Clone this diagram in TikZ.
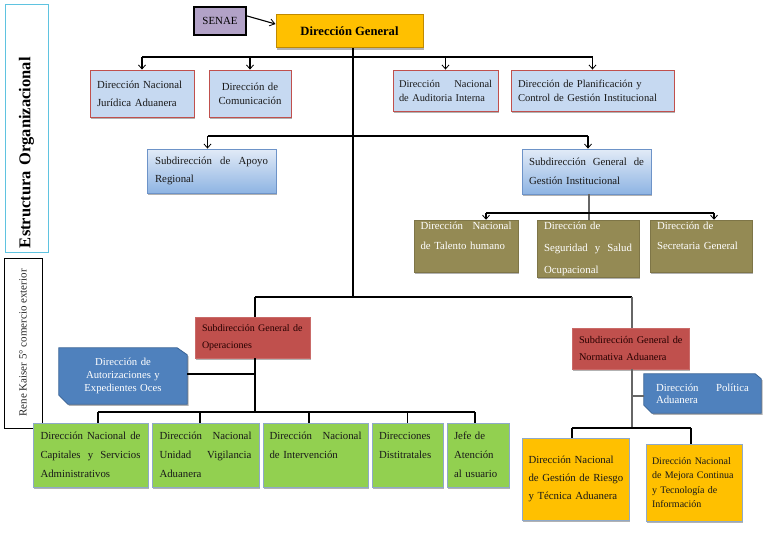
\documentclass[tikz,border=0pt]{standalone}
\usepackage{fontspec}
\setmainfont{Liberation Serif}
\usetikzlibrary{arrows.meta,shadows,backgrounds,calc}
\definecolor{lblue}{HTML}{C6D9F1}
\definecolor{redb}{HTML}{C0504D}
\definecolor{olivec}{HTML}{948A54}
\definecolor{sgred}{HTML}{C0504D}
\definecolor{grn}{HTML}{92D050}
\definecolor{orng}{HTML}{FFC000}
\definecolor{orngb}{HTML}{C08A00}
\definecolor{bshape}{HTML}{4F81BD}
\definecolor{bshapeb}{HTML}{3A6496}
\definecolor{gradtop}{HTML}{E2EBF7}
\definecolor{gradbot}{HTML}{8EB4E3}
\definecolor{gradb}{HTML}{6D93C8}
\definecolor{senaef}{HTML}{B2A2C7}
\definecolor{cyanb}{HTML}{5FC3E0}
\definecolor{bluegb}{HTML}{8FA9C9}
\newcommand{\bxf}[2]{\fontsize{#1}{#2}\selectfont}
\newcommand{\jl}[1]{\makebox[\hsize][l]{#1}}
\tikzset{
  bx/.style={rectangle, inner ysep=0pt, align=left, text=black!90},
  sh/.style={drop shadow={shadow xshift=1.3pt, shadow yshift=-1.6pt, opacity=0.3, fill=black}},
  lb/.style={bx, sh, fill=lblue, draw=redb, line width=0.9pt},
  gb/.style={bx, sh, top color=gradtop, bottom color=gradbot, draw=gradb, line width=0.8pt},
  ob/.style={bx, sh, fill=olivec, draw=olivec!85!black, line width=0.5pt, text=white},
  rb/.style={bx, sh, fill=sgred, draw=sgred!85!white, line width=0.8pt, text=black!85!red},
  grb/.style={bx, sh, fill=grn, draw=bluegb, line width=0.9pt},
  orb/.style={bx, sh, fill=orng, draw=bluegb, line width=0.9pt},
  ln/.style={draw=black, line width=1.1pt},
  bus/.style={draw=black, line width=1.7pt},
  gl/.style={draw=black!60, line width=1.1pt},
  arr/.style={ln, -{Straight Barb[length=4pt,width=7pt,line width=0.8pt]}},
}
\begin{document}
\begin{tikzpicture}[x=1pt,y=-1pt]
\useasboundingbox (0,0) rectangle (768,543);

% side labels
\node[draw=cyanb, line width=1pt, rotate=90, minimum width=247pt, minimum height=43pt,
      text width=239pt, inner xsep=4pt, inner ysep=0pt, align=left,
      font=\bfseries\bxf{16.5}{18}] (est) at (26.5,128.5) {Estructura Organizacional};
\node[draw=black, line width=1pt, rotate=90, minimum width=170pt, minimum height=38pt,
      text=black!85, font=\bxf{11}{13}] (rk) at (23,343) {Rene Kaiser 5° comercio exterior};

% top
\node[fill=senaef, draw=black, line width=1.8pt, minimum width=52pt, minimum height=28pt,
      inner sep=0pt, font=\bxf{10.9}{13}] (senae) at (220,21) {SENAE};
\node[sh, fill=orng, draw=orngb, line width=1pt, minimum width=147pt, minimum height=33pt,
      inner sep=0pt, font=\bfseries\bxf{12.6}{15}] (dg) at (349.5,31.5) {Dirección General};

% first row
\node[lb, minimum width=104pt, minimum height=47pt, inner xsep=7pt, text width=90pt,
      font=\bxf{10.8}{18}] (b1) at (142,93.5) {\mbox{Dirección Nacional}\\\mbox{Jurídica Aduanera}};
\node[lb, minimum width=82pt, minimum height=47pt, inner xsep=6pt, text width=70pt, align=center,
      font=\bxf{10.8}{14}] (b2) at (250,93.5) {Dirección de\\Comunicación};
\node[lb, minimum width=105pt, minimum height=41pt, inner xsep=6pt, text width=93pt,
      font=\bxf{10.4}{14}] (b3) at (445.5,90.5) {\jl{Dirección\hfill Nacional}\\\mbox{de Auditoria Interna}};
\node[lb, minimum width=163pt, minimum height=41pt, inner xsep=7pt, text width=149pt,
      font=\bxf{10.6}{14}] (b4) at (592.5,90.5) {\mbox{Dirección de Planificación y}\\\mbox{Control de Gestión Institucional}};

% second row
\node[gb, minimum width=129pt, minimum height=44pt, inner xsep=8pt, text width=113pt,
      font=\bxf{10.8}{18}] (sar) at (211.5,171) {\jl{Subdirección\hfill de\hfill Apoyo}\\Regional};
\node[gb, minimum width=129pt, minimum height=45pt, inner xsep=7pt, text width=115pt,
      font=\bxf{10.8}{19}] (sggi) at (586.5,171.5) {\jl{Subdirección\hfill General\hfill de}\\\mbox{Gestión Institucional}};

% olive row
\node[ob, minimum width=104pt, minimum height=52pt, inner xsep=6.5pt, text width=91pt,
      font=\bxf{10.8}{20}] (t1) at (466,246) {\jl{Dirección\hfill Nacional}\\\mbox{de Talento humano}\\\mbox{}};
\node[ob, minimum width=102pt, minimum height=57pt, inner xsep=7pt, text width=88pt,
      font=\bxf{10.8}{22}] (t2) at (588,248.5) {Dirección de\\\jl{Seguridad\hfill y\hfill Salud}\\Ocupacional};
\node[ob, minimum width=102pt, minimum height=52pt, inner xsep=7pt, text width=88pt,
      font=\bxf{10.8}{20}] (t3) at (701,246) {Dirección de\\\mbox{Secretaria General}\\\mbox{}};

% subdirecciones
\node[rb, minimum width=115pt, minimum height=41pt, inner xsep=7pt, text width=101pt,
      font=\bxf{10}{16.5}] (sgo) at (252.5,337.5) {\mbox{Subdirección General de}\\Operaciones};
\node[rb, minimum width=117pt, minimum height=41pt, inner xsep=7pt, text width=103pt,
      font=\bxf{10.3}{17}] (sgna) at (630.5,348.5) {\mbox{Subdirección General de}\\\mbox{Normativa Aduanera}};

% chamfered blue boxes (text nodes; shapes drawn on background layer)
\node[minimum width=128pt, minimum height=56pt, inner xsep=5pt, inner ysep=0pt, text width=118pt,
      align=center, text=white, font=\bxf{10.7}{13}] (aut) at (123,376) {Dirección de\\Autorizaciones y\\Expedientes Oces};
\node[minimum width=117pt, minimum height=39pt, inner xsep=12pt, inner ysep=0pt, text width=93pt,
      align=left, text=white, font=\bxf{10.8}{12}] (pol) at (702.5,393.5) {\jl{Dirección\hfill Política}\\Aduanera};

% green row
\node[grb, minimum width=115pt, minimum height=64pt, inner xsep=7.5pt, text width=100pt,
      font=\bxf{10.8}{19}] (g1) at (90.5,455) {\jl{Dirección\hfill Nacional\hfill de}\\\jl{Capitales\hfill y\hfill Servicios}\\Administrativos};
\node[grb, minimum width=107pt, minimum height=64pt, inner xsep=7.5pt, text width=92pt,
      font=\bxf{10.8}{19}] (g2) at (205.5,455) {\jl{Dirección\hfill Nacional}\\\jl{Unidad\hfill Vigilancia}\\Aduanera};
\node[grb, minimum width=105pt, minimum height=64pt, inner xsep=6.5pt, text width=92pt,
      font=\bxf{10.8}{19}] (g3) at (315.5,455) {\jl{Dirección\hfill Nacional}\\\mbox{de Intervención}\\\mbox{}};
\node[grb, minimum width=71pt, minimum height=64pt, inner xsep=7pt, text width=57pt,
      font=\bxf{10.8}{19}] (g4) at (407.5,455) {Direcciones\\Distitratales\\\mbox{}};
\node[grb, minimum width=62pt, minimum height=64pt, inner xsep=7pt, text width=48pt,
      font=\bxf{10.8}{19}] (g5) at (478,455) {Jefe de\\Atención\\\mbox{al usuario}};

% orange row
\node[orb, minimum width=107pt, minimum height=82pt, inner xsep=6.5pt, text width=94pt,
      font=\bxf{10.8}{18}] (o1) at (575.5,479) {\mbox{Dirección Nacional}\\\mbox{de Gestión de Riesgo}\\\mbox{y Técnica Aduanera}};
\node[orb, minimum width=96pt, minimum height=77pt, inner xsep=6pt, text width=84pt,
      font=\bxf{10}{14.5}] (o2) at (694,482.5) {\mbox{Dirección Nacional}\\\mbox{de Mejora Continua}\\\mbox{y Tecnología de}\\Información};

\begin{scope}[on background layer]
  \fill[white] (0,0) rectangle (768,543);
  \fill[black, opacity=0.3, transform canvas={shift={(1.5pt,-1.6pt)}}]
    (aut.north west) -- ([xshift=-10pt]aut.north east) -- ([yshift=-7pt]aut.north east) --
    (aut.south east) -- ([xshift=9pt]aut.south west) -- ([yshift=9pt]aut.south west) -- cycle;
  \filldraw[fill=bshape, draw=bshapeb, line width=0.8pt]
    (aut.north west) -- ([xshift=-10pt]aut.north east) -- ([yshift=-7pt]aut.north east) --
    (aut.south east) -- ([xshift=9pt]aut.south west) -- ([yshift=9pt]aut.south west) -- cycle;
  \fill[black, opacity=0.3, transform canvas={shift={(1.5pt,-1.6pt)}}]
    (pol.north west) -- ([xshift=-6pt]pol.north east) -- ([yshift=-5pt]pol.north east) --
    (pol.south east) -- ([xshift=8pt]pol.south west) -- ([yshift=8pt]pol.south west) -- cycle;
  \filldraw[fill=bshape, draw=bshapeb, line width=0.8pt]
    (pol.north west) -- ([xshift=-6pt]pol.north east) -- ([yshift=-5pt]pol.north east) --
    (pol.south east) -- ([xshift=8pt]pol.south west) -- ([yshift=8pt]pol.south west) -- cycle;
\end{scope}

% junctions
\coordinate (j1) at (353,57);
\coordinate (j2) at (353,136);
\coordinate (j3) at (589,213);
\coordinate (j4) at (353,297);
\coordinate (ot) at (255,412);
\coordinate (nt) at (632,428);

% connectors
\draw[ln, -{Straight Barb[length=5pt,width=7pt,line width=0.8pt]}]
  ($(senae.north east)!0.33!(senae.south east)$) -- ($(dg.north west)!0.28!(dg.south west)$);
\draw[ln] (dg.south -| j1) -- (j4);
\draw[bus] (b1.north |- j1) -- (b4.north |- j1);
\foreach \n in {b1,b2,b3,b4} \draw[arr] (\n.north |- j1) -- (\n.north);
\draw[bus] ([xshift=-4pt]sar.north |- j2) -- ([xshift=1.5pt]sggi.north |- j2);
\draw[arr] ([xshift=-4pt]sar.north |- j2) -- ([xshift=-4pt]sar.north);
\draw[arr] ([xshift=1.5pt]sggi.north |- j2) -- ([xshift=1.5pt]sggi.north);

\draw[gl] (sggi.south -| j3) -- (t2.north -| j3);
\draw[ln] ([xshift=20pt]t1.north |- j3) -- ([xshift=13pt]t3.north |- j3);
\draw[arr] ([xshift=20pt]t1.north |- j3) -- ([xshift=20pt]t1.north);
\draw[arr] ([xshift=13pt]t3.north |- j3) -- ([xshift=13pt]t3.north);

\draw[bus] (j4 -| ot) -- (j4 -| nt);
\draw[ln] (j4 -| ot) -- (sgo.north -| ot);
\draw[ln] (sgo.south -| ot) -- (ot);
\draw[ln] ([yshift=2pt]aut.east) -- ([yshift=2pt]aut.east -| ot);
\draw[ln] ([xshift=7.5pt]g1.north |- ot) -- ([xshift=-3pt]g5.north |- ot);
\draw[ln] ([xshift=7.5pt]g1.north |- ot) -- ([xshift=7.5pt]g1.north);
\draw[ln] ([xshift=-5.5pt]g2.north |- ot) -- ([xshift=-5.5pt]g2.north);
\draw[ln] ([xshift=-6.5pt]g3.north |- ot) -- ([xshift=-6.5pt]g3.north);
\draw[ln] (g4.north |- ot) -- (g4.north);
\draw[ln] ([xshift=-3pt]g5.north |- ot) -- ([xshift=-3pt]g5.north);

\draw[gl] (j4 -| nt) -- (sgna.north -| nt);
\draw[gl] (sgna.south -| nt) -- (nt);
\draw[gl] ([yshift=-2.5pt]pol.west) -- ([yshift=-2.5pt]pol.west -| nt);
\draw[ln] ([xshift=-3.5pt]o1.north |- nt) -- ([xshift=-3pt]o2.north |- nt);
\draw[ln] ([xshift=-3.5pt]o1.north |- nt) -- ([xshift=-3.5pt]o1.north);
\draw[ln] ([xshift=-3pt]o2.north |- nt) -- ([xshift=-3pt]o2.north);
\end{tikzpicture}
\end{document}
